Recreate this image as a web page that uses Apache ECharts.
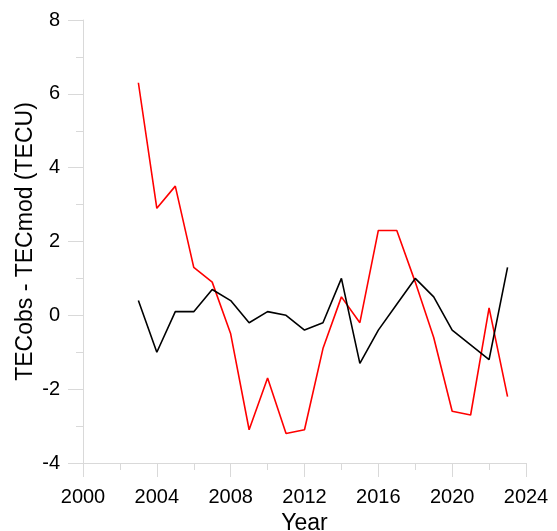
<!DOCTYPE html>
<html>
<head>
<meta charset="utf-8">
<style>
  html, body { margin: 0; padding: 0; background: #ffffff; }
  #chart { width: 557px; height: 531px; }
</style>
<script src="https://cdn.jsdelivr.net/npm/echarts@6/dist/echarts.min.js"></script>
</head>
<body>
<div id="chart"></div>
<script>
// Yearly differences between observed and modelled TEC
const years = [2003, 2004, 2005, 2006, 2007, 2008, 2009, 2010, 2011, 2012, 2013,
               2014, 2015, 2016, 2017, 2018, 2019, 2020, 2021, 2022, 2023];
const blackSeries = [0.4, -1.0, 0.1, 0.1, 0.7, 0.4, -0.2, 0.1, 0.0, -0.4, -0.2,
                     1.0, -1.3, -0.4, 0.3, 1.0, 0.5, -0.4, -0.8, -1.2, 1.3];
const redSeries = [6.3, 2.9, 3.5, 1.3, 0.9, -0.5, -3.1, -1.7, -3.2, -3.1, -0.9,
                   0.5, -0.2, 2.3, 2.3, 0.9, -0.6, -2.6, -2.7, 0.2, -2.2];
const xTicks = [2000, 2004, 2008, 2012, 2016, 2020, 2024];
const yTicks = [-4, -2, 0, 2, 4, 6, 8];

const axisGrey = '#d9d9d9';
const fontFamily = 'Liberation Sans, Arial, sans-serif';

const pairs = vals => years.map((y, i) => [y, vals[i]]);

const chart = echarts.init(document.getElementById('chart'), null, { renderer: 'canvas' });
chart.setOption({
  animation: false,
  backgroundColor: '#ffffff',
  grid: { left: 83, right: 31, top: 20, bottom: 68, containLabel: false, outerBoundsMode: 'none' },
  xAxis: {
    type: 'value',
    min: xTicks[0],
    max: xTicks[xTicks.length - 1],
    interval: xTicks[1] - xTicks[0],
    name: 'Year',
    nameLocation: 'middle',
    nameGap: 49,
    nameMoveOverlap: false,
    nameTextStyle: { fontFamily, fontSize: 23, color: '#000', verticalAlign: 'top' },
    axisLine: { show: true, onZero: false, lineStyle: { color: axisGrey, width: 1 } },
    axisTick: { show: true, length: 14, lineStyle: { color: axisGrey, width: 1 } },
    minorTick: { show: true, splitNumber: 2, length: 7, lineStyle: { color: axisGrey, width: 1 } },
    splitLine: { show: false },
    axisLabel: { fontFamily, fontSize: 20, color: '#000', margin: 24, formatter: v => String(v) }
  },
  yAxis: {
    type: 'value',
    min: yTicks[0],
    max: yTicks[yTicks.length - 1],
    interval: yTicks[1] - yTicks[0],
    name: 'TECobs - TECmod (TECU)',
    nameLocation: 'middle',
    nameGap: 46,
    nameMoveOverlap: false,
    nameTextStyle: { fontFamily, fontSize: 23, color: '#000' },
    axisLine: { show: true, lineStyle: { color: axisGrey, width: 1 } },
    axisTick: { show: true, length: 15, lineStyle: { color: axisGrey, width: 1 } },
    minorTick: { show: true, splitNumber: 2, length: 7, lineStyle: { color: axisGrey, width: 1 } },
    splitLine: { show: false },
    axisLabel: { fontFamily, fontSize: 20, color: '#000', margin: 23 }
  },
  series: [
    {
      type: 'line',
      data: pairs(redSeries),
      showSymbol: false,
      lineStyle: { color: '#ff0000', width: 1.6 },
      itemStyle: { color: '#ff0000' },
      z: 2
    },
    {
      type: 'line',
      data: pairs(blackSeries),
      showSymbol: false,
      lineStyle: { color: '#000000', width: 1.6 },
      itemStyle: { color: '#000000' },
      z: 3
    }
  ]
});
</script>
</body>
</html>
